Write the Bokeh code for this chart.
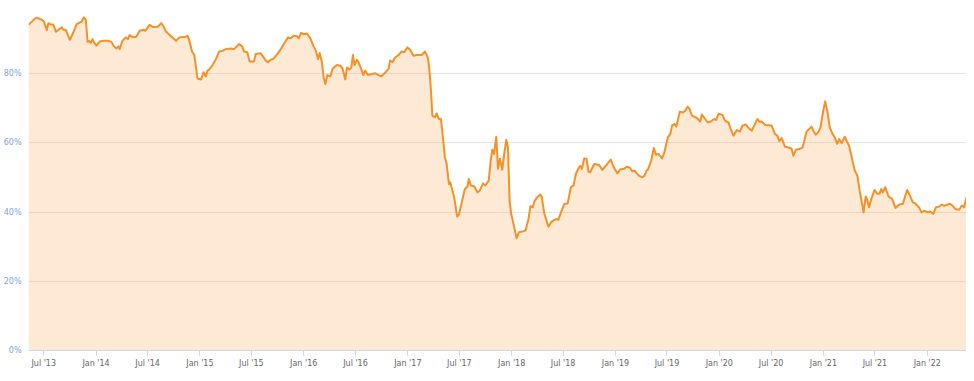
import pandas as pd
from bokeh.plotting import figure
from bokeh.models import Range1d, DatetimeTickFormatter, MonthsTicker, FixedTicker, ColumnDataSource
from bokeh.embed import file_html
from bokeh.resources import INLINE

# Time as decimal years and BTC dominance in %
years = [
    2013.349, 2013.413, 2013.429, 2013.477, 2013.499, 2013.525, 2013.540, 2013.563, 2013.588, 2013.614,
    2013.646, 2013.669, 2013.684, 2013.707, 2013.748, 2013.780, 2013.812, 2013.844, 2013.860, 2013.882,
    2013.901, 2013.918, 2013.933, 2013.949, 2013.966, 2013.981, 2014.004, 2014.035, 2014.067, 2014.115,
    2014.148, 2014.172, 2014.195, 2014.215, 2014.227, 2014.253, 2014.285, 2014.307, 2014.323, 2014.355,
    2014.387, 2014.419, 2014.457, 2014.476, 2014.515, 2014.546, 2014.594, 2014.627, 2014.649, 2014.675,
    2014.722, 2014.770, 2014.802, 2014.866, 2014.881, 2014.898, 2014.924, 2014.946, 2014.977, 2015.010,
    2015.035, 2015.058, 2015.073, 2015.089, 2015.121, 2015.154, 2015.185, 2015.217, 2015.249, 2015.297,
    2015.329, 2015.377, 2015.408, 2015.425, 2015.456, 2015.479, 2015.521, 2015.537, 2015.585, 2015.607,
    2015.633, 2015.655, 2015.681, 2015.712, 2015.760, 2015.808, 2015.849, 2015.872, 2015.904, 2015.935,
    2015.952, 2015.974, 2016.000, 2016.031, 2016.064, 2016.095, 2016.117, 2016.137, 2016.153, 2016.175,
    2016.191, 2016.208, 2016.227, 2016.255, 2016.278, 2016.319, 2016.351, 2016.373, 2016.399, 2016.415,
    2016.438, 2016.457, 2016.472, 2016.488, 2016.510, 2016.527, 2016.552, 2016.572, 2016.591, 2016.616,
    2016.654, 2016.687, 2016.718, 2016.744, 2016.776, 2016.814, 2016.830, 2016.852, 2016.878, 2016.910,
    2016.941, 2016.964, 2016.996, 2017.022, 2017.054, 2017.085, 2017.133, 2017.166, 2017.191, 2017.204,
    2017.223, 2017.236, 2017.261, 2017.277, 2017.300, 2017.319, 2017.341, 2017.357, 2017.373, 2017.396,
    2017.408, 2017.421, 2017.446, 2017.475, 2017.491, 2017.516, 2017.549, 2017.574, 2017.587, 2017.606,
    2017.638, 2017.670, 2017.693, 2017.724, 2017.746, 2017.779, 2017.798, 2017.813, 2017.830, 2017.852,
    2017.868, 2017.887, 2017.909, 2017.926, 2017.948, 2017.964, 2017.980, 2017.995, 2018.018, 2018.047,
    2018.069, 2018.117, 2018.133, 2018.162, 2018.181, 2018.203, 2018.220, 2018.245, 2018.277, 2018.290,
    2018.315, 2018.354, 2018.379, 2018.405, 2018.427, 2018.450, 2018.475, 2018.507, 2018.539, 2018.570,
    2018.596, 2018.618, 2018.641, 2018.660, 2018.676, 2018.699, 2018.721, 2018.740, 2018.756, 2018.795,
    2018.842, 2018.874, 2018.915, 2018.954, 2018.986, 2019.018, 2019.044, 2019.082, 2019.107, 2019.139,
    2019.161, 2019.184, 2019.226, 2019.257, 2019.279, 2019.299, 2019.312, 2019.344, 2019.369, 2019.389,
    2019.417, 2019.449, 2019.471, 2019.504, 2019.528, 2019.545, 2019.567, 2019.586, 2019.619, 2019.650,
    2019.672, 2019.695, 2019.714, 2019.736, 2019.784, 2019.816, 2019.832, 2019.864, 2019.887, 2019.918,
    2019.950, 2019.969, 2019.992, 2020.030, 2020.055, 2020.088, 2020.110, 2020.136, 2020.167, 2020.199,
    2020.222, 2020.257, 2020.280, 2020.311, 2020.343, 2020.366, 2020.385, 2020.407, 2020.439, 2020.503,
    2020.534, 2020.557, 2020.577, 2020.599, 2020.630, 2020.663, 2020.694, 2020.711, 2020.736, 2020.774,
    2020.800, 2020.838, 2020.864, 2020.886, 2020.902, 2020.927, 2020.950, 2020.972, 2020.998, 2021.017,
    2021.037, 2021.061, 2021.087, 2021.109, 2021.132, 2021.151, 2021.176, 2021.205, 2021.221, 2021.247,
    2021.269, 2021.301, 2021.327, 2021.349, 2021.375, 2021.387, 2021.406, 2021.420, 2021.439, 2021.461,
    2021.493, 2021.516, 2021.541, 2021.557, 2021.573, 2021.595, 2021.627, 2021.662, 2021.694, 2021.726,
    2021.765, 2021.806, 2021.828, 2021.861, 2021.885, 2021.924, 2021.947, 2021.972, 2022.004, 2022.026,
    2022.058, 2022.084, 2022.115, 2022.141, 2022.163, 2022.196, 2022.218, 2022.244, 2022.269, 2022.307,
    2022.333, 2022.355, 2022.378,
]

dominance = [
    94.1, 96.0, 96.2, 95.6, 95.0, 92.6, 94.6, 94.2, 94.2, 92.1,
    92.9, 93.4, 92.7, 92.7, 89.8, 91.9, 94.3, 94.8, 95.0, 96.3,
    95.6, 89.2, 89.5, 88.9, 90.0, 89.0, 88.1, 89.3, 89.5, 89.5,
    89.2, 87.9, 87.3, 87.9, 87.1, 89.5, 90.5, 90.0, 91.2, 90.5,
    90.7, 92.4, 92.7, 92.4, 94.1, 93.5, 93.6, 94.6, 93.7, 92.1,
    90.8, 89.5, 90.5, 90.7, 91.0, 89.5, 86.4, 85.4, 78.6, 78.3,
    80.4, 79.2, 80.9, 81.2, 82.5, 84.2, 86.4, 86.6, 87.1, 87.3,
    87.1, 88.6, 87.9, 86.4, 86.2, 83.5, 83.5, 85.7, 85.9, 85.0,
    83.8, 83.3, 84.0, 84.4, 86.2, 88.6, 90.5, 90.2, 91.0, 90.8,
    90.2, 91.8, 91.4, 91.6, 90.2, 87.9, 86.6, 84.2, 86.0, 83.3,
    78.9, 77.0, 79.6, 79.2, 81.5, 82.5, 82.3, 81.5, 78.3, 81.8,
    81.2, 81.8, 85.4, 82.5, 84.0, 83.3, 81.4, 79.6, 80.9, 79.6,
    79.9, 80.1, 79.6, 79.2, 80.1, 81.4, 83.8, 83.3, 84.7, 85.4,
    86.4, 86.2, 87.6, 86.9, 85.2, 85.4, 85.4, 86.4, 84.7, 82.3,
    75.1, 67.9, 67.4, 68.5, 66.9, 66.9, 60.7, 55.7, 54.1, 48.1,
    48.6, 47.2, 44.3, 38.7, 39.2, 42.4, 46.7, 47.4, 49.6, 47.7,
    47.5, 45.7, 46.2, 48.3, 47.7, 49.1, 54.9, 58.0, 56.8, 61.8,
    52.5, 55.4, 52.2, 56.3, 60.9, 58.7, 43.3, 39.5, 36.6, 32.4,
    34.2, 34.5, 34.7, 38.0, 41.7, 41.4, 43.1, 44.3, 45.1, 44.3,
    39.5, 35.8, 37.1, 37.6, 38.0, 37.8, 39.9, 42.4, 42.5, 47.2,
    47.7, 51.0, 52.5, 53.4, 52.5, 55.5, 55.4, 51.7, 51.5, 53.9,
    53.6, 52.2, 53.7, 55.2, 52.8, 51.2, 52.3, 52.5, 53.1, 52.8,
    51.8, 52.0, 50.5, 50.1, 50.5, 52.0, 52.2, 54.9, 58.5, 56.6,
    56.8, 55.5, 57.3, 61.6, 62.6, 65.0, 65.5, 64.7, 69.0, 68.8,
    69.3, 70.5, 69.8, 67.9, 67.2, 66.2, 68.2, 66.9, 65.9, 66.2,
    66.9, 66.6, 68.4, 68.1, 66.4, 65.9, 64.0, 62.1, 63.7, 63.3,
    65.0, 65.3, 64.3, 63.5, 65.5, 66.9, 66.1, 66.2, 65.2, 65.0,
    62.6, 62.1, 60.5, 61.4, 58.9, 58.7, 58.3, 56.3, 58.0, 58.3,
    58.7, 63.3, 64.0, 64.7, 63.5, 62.4, 63.1, 64.5, 69.3, 72.0,
    69.3, 64.5, 62.6, 61.6, 59.7, 61.1, 59.9, 61.8, 60.7, 59.2,
    56.3, 52.0, 50.5, 46.2, 41.9, 39.9, 44.5, 43.8, 41.4, 43.8,
    46.4, 45.3, 45.4, 46.7, 45.7, 47.2, 44.5, 43.8, 41.2, 42.1,
    42.4, 46.4, 45.1, 42.8, 42.5, 41.2, 39.9, 40.4, 39.9, 40.2,
    39.5, 41.4, 41.6, 42.2, 41.8, 42.2, 42.4, 41.9, 40.9, 40.7,
    41.9, 41.4, 44.3,
]

y_ticks = [0, 20, 40, 60, 80]
y_tick_labels = ["0%", "20%", "40%", "60%", "80%"]
y_grid = [0, 20, 40, 60, 80, 100]


def to_datetime(y):
    yr = int(y)
    start = pd.Timestamp(year=yr, month=1, day=1)
    length = (pd.Timestamp(year=yr + 1, month=1, day=1) - start).days
    return start + pd.Timedelta(days=(y - yr) * length)


dates = [to_datetime(y) for y in years]
src = ColumnDataSource(dict(date=dates, dom=dominance))

LINE = "#f39229"

p = figure(
    width=966, height=373,
    x_axis_type="datetime",
    x_range=Range1d(start=dates[0], end=dates[-1]),
    y_range=Range1d(0, 100),
    output_backend="svg", toolbar_location=None,
    min_border_left=28, min_border_right=0, min_border_top=4, min_border_bottom=23,
)
p.outline_line_color = None
p.background_fill_color = "white"
p.border_fill_color = "white"

p.varea(x="date", y1=0, y2="dom", source=src, fill_color=LINE, fill_alpha=0.2)
p.line(x="date", y="dom", source=src, line_color=LINE, line_width=2, line_join="round")

# grids
p.xgrid.visible = False
p.ygrid.ticker = FixedTicker(ticks=y_grid)
p.ygrid.grid_line_color = "#e6e6e6"
p.ygrid.grid_line_width = 1

# y axis
ya = p.yaxis[0]
ya.ticker = FixedTicker(ticks=y_ticks)
ya.major_label_overrides = {t: l for t, l in zip(y_ticks, y_tick_labels)}
ya.axis_line_color = None
ya.major_tick_line_color = None
ya.minor_tick_line_color = None
ya.major_tick_out = 0
ya.major_tick_in = 0
ya.minor_tick_out = 0
ya.minor_tick_in = 0
ya.major_label_standoff = 7
ya.major_label_text_font = "DejaVu Sans"
ya.major_label_text_font_size = "8px"
ya.major_label_text_color = "#7ea6e0"

# x axis
xa = p.xaxis[0]
xa.ticker = MonthsTicker(months=[0, 6])
fmt = "%b '%y"
xa.formatter = DatetimeTickFormatter(days=fmt, months=fmt, years=fmt)
xa.axis_line_color = "#ccd6eb"
xa.major_tick_line_color = "#ccd6eb"
xa.major_tick_out = 5
xa.major_tick_in = 0
xa.minor_tick_line_color = None
xa.minor_tick_out = 0
xa.minor_tick_in = 0
xa.major_label_standoff = 3
xa.major_label_text_font = "DejaVu Sans"
xa.major_label_text_font_size = "8px"
xa.major_label_text_color = "#666666"

open("out.html", "w").write(file_html(p, INLINE))
